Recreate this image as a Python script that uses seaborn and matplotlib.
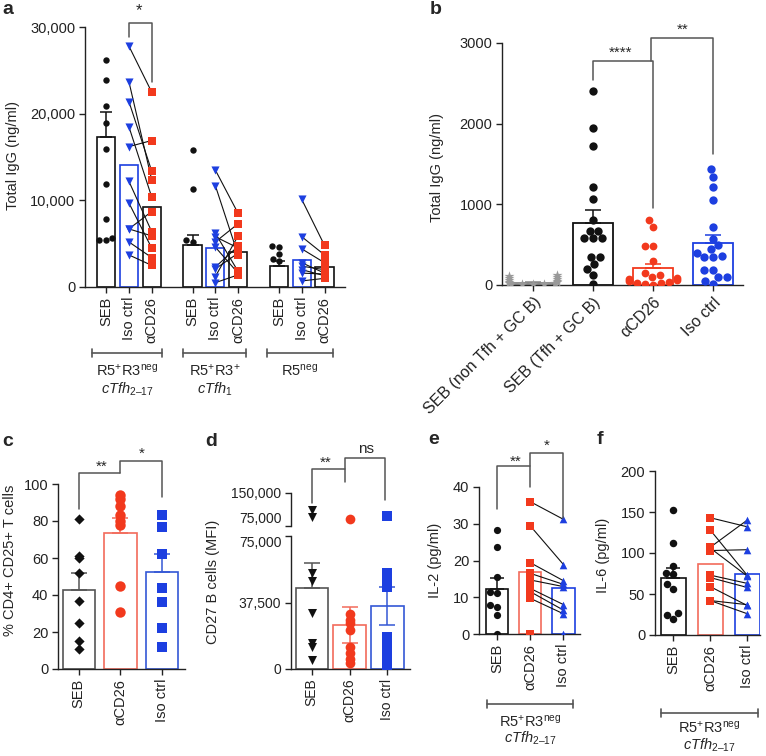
import numpy as np
import pandas as pd
import matplotlib
matplotlib.use("Agg")
import matplotlib.pyplot as plt
from matplotlib.lines import Line2D
import seaborn as sns

# ---------------- data ----------------
# panel a
a_pos = [0, 1, 2, 3.8, 4.8, 5.8, 7.6, 8.6, 9.6]
a_ticklabels = ["SEB", "Iso ctrl", "αCD26"] * 3
a_bar_mean = [17300, 14100, 9200, 4800, 4500, 4000, 2450, 3100, 2270]
a_bar_sem = [2900, 0, 0, 1250, 0, 0, 500, 0, 0]
a_seb_g1 = [26200, 23900, 20900, 18900, 15900, 11900, 7800, 5700, 5450, 5400]
a_seb_g2 = [15800, 11300, 5400, 5150]
a_seb_g3 = [4750, 4600, 3850, 3200, 2950]
a_iso_g1 = [27800, 23700, 21400, 18500, 16200, 12200, 9700, 6700, 6700, 5200, 3700]
a_cd26_g1 = [22500, 12400, 13400, 10400, 16900, 6400, 4500, 8700, 5900, 3400, 2500]
a_iso_g2 = [13500, 11700, 6200, 5800, 5200, 4600, 2300, 2100, 1200, 500]
a_cd26_g2 = [8500, 3700, 1800, 4500, 7300, 1600, 4700, 3900, 5900, 1400]
a_iso_g3 = [10100, 5800, 4400, 2800, 2400, 2000, 1600, 700]
a_cd26_g3 = [4800, 3700, 2800, 1600, 2000, 1300, 1500, 1000]

# panel b
b_cats = ["SEB (non Tfh + GC B)", "SEB (Tfh + GC B)", "αCD26", "Iso ctrl"]
b_bar_mean = [30, 765, 205, 520]
b_bar_sem = [10, 160, 55, 105]
b_nontfh = [120, 95, 70, 50, 35, 25, 15, 10, 10, 15, 25, 40, 60, 85, 110]
b_seb = [2410, 1950, 1720, 1210, 1060, 810, 675, 675, 580, 580, 580, 350, 350, 255, 195, 120, 12]
b_cd26 = [800, 720, 480, 480, 300, 150, 120, 100, 85, 70, 60, 50, 40, 30, 20, 12, 5]
b_iso = [1440, 1340, 1210, 1050, 725, 575, 495, 445, 395, 360, 345, 345, 180, 180, 100, 95, 55, 12]

# panel c
c_cats = ["SEB", "αCD26", "Iso ctrl"]
c_bar_mean = [42.5, 73.7, 52.4]
c_bar_sem = [9.2, 7.7, 10.0]
c_seb = [81, 61, 60, 52, 37, 25, 15, 11]
c_cd26 = [94, 92, 88, 83, 80, 78, 45, 31]
c_iso = [83, 77, 62, 44, 36, 22, 12]

# panel d
d_cats = ["SEB", "αCD26", "Iso ctrl"]
d_bar_mean = [45700, 24800, 35500]
d_sem_up = [14100, 10200, 10900]
d_sem_down = [0, 10200, 10900]
d_seb = [111000, 95000, 54000, 49600, 31600, 14700, 12400, 5000]
d_cd26 = [91000, 31000, 27600, 26000, 22000, 12400, 9000, 5600, 3500]
d_iso = [98000, 54000, 51000, 48000, 46000, 18000, 15000, 12000, 9000, 6000, 3000, 1000]

# panel e
e_cats = ["SEB", "αCD26", "Iso ctrl"]
e_bar_mean = [12.2, 16.8, 12.4]
e_bar_sem = [3.0, 0, 0]
e_seb = [28.3, 23.8, 15.5, 11.5, 11.2, 7.9, 7.3, 5.2, 0]
e_cd26 = [36, 29.4, 19.4, 16.5, 14.7, 12.4, 11.5, 9.7, 0]
e_iso = [31.2, 18.9, 14.5, 13.5, 12.9, 8.0, 6.5, 5.5, 0]

# panel f
f_cats = ["SEB", "αCD26", "Iso ctrl"]
f_bar_mean = [69, 87, 74]
f_bar_sem = [13, 0, 0]
f_seb = [153, 112, 84, 76, 74, 62, 56, 27, 25, 20]
f_cd26 = [143, 128, 107, 106, 103, 73, 70, 59, 42, 42]
f_iso = [132, 73, 140, 72, 104, 63, 58, 36, 37, 26]

# ---------------- style ----------------
sns.set_style("ticks")
plt.rcParams["font.family"] = ["Liberation Sans", "DejaVu Sans"]
plt.rcParams.update({
    "font.size": 10, "axes.linewidth": 1.0, "axes.edgecolor": "#222222",
    "xtick.major.size": 4, "ytick.major.size": 4,
    "xtick.major.width": 1, "ytick.major.width": 1,
    "xtick.color": "#222222", "ytick.color": "#222222",
    "mathtext.fontset": "custom", "mathtext.rm": "Liberation Sans",
    "mathtext.it": "Liberation Sans:italic", "mathtext.bf": "Liberation Sans:bold",
})

BLK = "#111111"
GRY = "#555555"
RED = "#f2391d"
BLU = "#1d3fe0"
RED_E = "#f26b5b"
BLU_E = "#3457d5"

W, H = 766, 756
fig = plt.figure(figsize=(W / 100, H / 100), dpi=100)


def ax_px(l, t, r, b):
    return fig.add_axes([l / W, 1 - b / H, (r - l) / W, (b - t) / H])


def ftext(x, y, s, **kw):
    fig.text(x / W, 1 - y / H, s, **kw)


def fline(xs, ys, color=GRY, lw=1.2):
    fig.add_artist(Line2D([x / W for x in xs], [1 - y / H for y in ys],
                          transform=fig.transFigure, color=color, lw=lw))


def color_bars(ax, edges, lw=1.2):
    for p, c in zip(ax.patches, edges):
        p.set_facecolor("white")
        p.set_edgecolor(c)
        p.set_linewidth(lw)
        p.set_zorder(1)


def errbars(ax, xs, means, up, down, colors, cap=4):
    for x, m, u, d, c in zip(xs, means, up, down, colors):
        if u == 0 and d == 0:
            continue
        ax.errorbar([x], [m], yerr=[[d], [u]], fmt="none", ecolor=c,
                    elinewidth=1.1, capsize=cap, capthick=1.1, zorder=2)


def bracket(ax, x1, y1, x2, y2, ytop, color=GRY):
    ax.plot([x1, x1, x2, x2], [y1, ytop, ytop, y2], color=color, lw=1.1,
            clip_on=False, zorder=5)


def paired(ax, x1, v1, x2, v2, m1, c1, m2, c2, s1, s2):
    for a, b in zip(v1, v2):
        ax.plot([x1, x2], [a, b], color=BLK, lw=0.8, zorder=3)
    sns.scatterplot(x=[x1] * len(v1), y=v1, marker=m1, color=c1, s=s1,
                    linewidth=0, ax=ax, zorder=4, legend=False)
    sns.scatterplot(x=[x2] * len(v2), y=v2, marker=m2, color=c2, s=s2,
                    linewidth=0, ax=ax, zorder=4, legend=False)


def finish(ax, xlim, ylim, ticks, labels, yticks, ylabels, rot=90, ls=10):
    sns.despine(ax=ax)
    ax.set_xlim(*xlim)
    ax.set_ylim(*ylim)
    ax.set_xticks(ticks)
    ax.set_xticklabels(labels, rotation=rot, ha="center", va="top")
    ax.set_yticks(yticks)
    ax.set_yticklabels(ylabels)
    ax.set_xlabel("")
    ax.set_ylabel("")
    ax.tick_params(labelsize=ls, pad=3)


# ---------------- panel a ----------------
ax = ax_px(85, 27, 345, 287)
sns.barplot(x=a_pos, y=a_bar_mean, native_scale=True, width=0.8, color="white",
            errorbar=None, ax=ax)
a_edges = [BLK, BLU, BLK] * 3
color_bars(ax, a_edges)
errbars(ax, a_pos, a_bar_mean, a_bar_sem, [0] * 9, a_edges, cap=4)
seb_x = [a_pos[0]] * len(a_seb_g1) + [a_pos[3]] * len(a_seb_g2) + [a_pos[6]] * len(a_seb_g3)
sns.swarmplot(x=seb_x, y=a_seb_g1 + a_seb_g2 + a_seb_g3, native_scale=True,
              color=BLK, size=4.6, ax=ax, zorder=4)
for i, (iso, cd) in enumerate([(a_iso_g1, a_cd26_g1), (a_iso_g2, a_cd26_g2), (a_iso_g3, a_cd26_g3)]):
    paired(ax, a_pos[3 * i + 1], iso, a_pos[3 * i + 2], cd, "v", BLU, "s", RED, 34, 34)
finish(ax, (-0.93, 10.5), (0, 30000), a_pos, a_ticklabels,
       [0, 10000, 20000, 30000], ["0", "10,000", "20,000", "30,000"], ls=10.5)
bracket(ax, 1, 28850, 2, 23650, 30450)
ax.text(1.45, 31000, "*", ha="center", va="bottom", fontsize=12)
ftext(13, 155, "Total IgG (ng/ml)", rotation=90, ha="center", va="center", fontsize=10.5)
ftext(2, 10, "a", fontsize=14, fontweight="bold", ha="left", va="center")
for (x1, x2, l1, l2) in [(92, 162, r"R5$^{+}$R3$^{\mathrm{neg}}$", r"$\mathit{cTfh}_{\mathrm{2–17}}$"),
                         (183, 246, r"R5$^{+}$R3$^{+}$", r"$\mathit{cTfh}_{\mathrm{1}}$"),
                         (267, 333, r"R5$^{\mathrm{neg}}$", None)]:
    fline([x1, x2], [353, 353])
    fline([x1, x1], [349, 357])
    fline([x2, x2], [349, 357])
    ftext((x1 + x2) / 2, 371, l1, ha="center", va="center", fontsize=10.5)
    if l2:
        ftext((x1 + x2) / 2, 389, l2, ha="center", va="center", fontsize=10.5)

# ---------------- panel b ----------------
ax = ax_px(502, 43, 743, 285)
sns.barplot(x=b_cats, y=b_bar_mean, order=b_cats, width=0.67, color="white",
            errorbar=None, ax=ax)
b_edges = ["#888888", BLK, RED, BLU]
color_bars(ax, b_edges, lw=1.3)
errbars(ax, range(4), b_bar_mean, b_bar_sem, [0] * 4, b_edges, cap=6)
for cat, vals, col, mk, sz in [(b_cats[0], b_nontfh, "#999999", "*", 7.5),
                               (b_cats[1], b_seb, BLK, "o", 6.0),
                               (b_cats[2], b_cd26, RED, "o", 5.6),
                               (b_cats[3], b_iso, BLU, "o", 6.0)]:
    sns.swarmplot(x=[cat] * len(vals), y=vals, order=b_cats, color=col,
                  marker=mk, size=sz, ax=ax, zorder=4, warn_thresh=1)
finish(ax, (-0.52, 3.5), (0, 3000), range(4), b_cats,
       [0, 1000, 2000, 3000], ["0", "1000", "2000", "3000"], rot=45, ls=10.5)
for t in ax.get_xticklabels():
    t.set_ha("right")
    t.set_va("top")
    t.set_rotation_mode("anchor")
    t.set_fontsize(11.5)
bracket(ax, 1, 2545, 2, 950, 2772)
bracket(ax, 1.97, 2772, 3, 1626, 3062)
ax.text(1.45, 2790, "****", ha="center", va="bottom", fontsize=11)
ax.text(2.5, 3080, "**", ha="center", va="bottom", fontsize=11)
ftext(437, 167, "Total IgG (ng/ml)", rotation=90, ha="center", va="center", fontsize=10.5)
ftext(430, 10, "b", fontsize=14, fontweight="bold", ha="left", va="center")

# ---------------- panel c ----------------
ax = ax_px(58, 484, 185, 669)
sns.barplot(x=c_cats, y=c_bar_mean, order=c_cats, width=0.78, color="white",
            errorbar=None, ax=ax)
c_edges = [GRY, RED_E, BLU_E]
color_bars(ax, c_edges)
errbars(ax, range(3), c_bar_mean, c_bar_sem, [0] * 3, c_edges, cap=6)
for cat, vals, col, mk, sz in [(c_cats[0], c_seb, BLK, "D", 5.2),
                               (c_cats[1], c_cd26, RED, "o", 7.5),
                               (c_cats[2], c_iso, BLU, "s", 6.5)]:
    sns.stripplot(x=[cat] * len(vals), y=vals, order=c_cats, color=col,
                  marker=mk, size=sz, jitter=False, linewidth=0, ax=ax, zorder=4)
finish(ax, (-0.5, 2.55), (0, 100), range(3), c_cats,
       [0, 20, 40, 60, 80, 100], ["0", "20", "40", "60", "80", "100"], ls=10.5)
bracket(ax, 0, 86.5, 1, 106.1, 106.1)
bracket(ax, 1, 106.1, 2, 93.2, 112.6)
ax.text(0.55, 105.5, "**", ha="center", va="bottom", fontsize=11)
ax.text(1.5, 112.5, "*", ha="center", va="bottom", fontsize=11)
ftext(10, 560, "% CD4+ CD25+ T cells", rotation=90, ha="center", va="center", fontsize=10.5)
ftext(2, 442, "c", fontsize=14, fontweight="bold", ha="left", va="center")

# ---------------- panel d ----------------
dl = ax_px(291, 536, 410, 669)
du = ax_px(291, 493, 410, 526)
sns.barplot(x=d_cats, y=d_bar_mean, order=d_cats, width=0.86, color="white",
            errorbar=None, ax=dl)
d_edges = [GRY, RED_E, BLU_E]
color_bars(dl, d_edges)
errbars(dl, range(3), d_bar_mean, d_sem_up, d_sem_down, d_edges, cap=6)
for axd in (dl, du):
    for cat, vals, col, mk, sz in [(d_cats[0], d_seb, BLK, "v", 6.5),
                                   (d_cats[1], d_cd26, RED, "o", 7.0),
                                   (d_cats[2], d_iso, BLU, "s", 7.5)]:
        sns.stripplot(x=[cat] * len(vals), y=vals, order=d_cats, color=col,
                      marker=mk, size=sz, jitter=False, linewidth=0, ax=axd, zorder=4)
finish(dl, (-0.55, 2.6), (0, 75000), range(3), d_cats,
       [0, 37500, 75000], ["0", "37,500", "75,000"], ls=10)
sns.despine(ax=du, bottom=True)
du.set_xlim(-0.55, 2.6)
du.set_ylim(75000, 150000)
du.set_xticks([])
du.set_yticks([75000, 150000])
du.set_yticklabels(["75,000", "150,000"])
du.set_xlabel("")
du.set_ylabel("")
du.tick_params(labelsize=10, pad=3)
du.get_yticklabels()[0].set_va("bottom")
dl.get_yticklabels()[-1].set_va("top")
bracket(du, 0, 127000, 0.89, 175000, 204500)
bracket(du, 0.89, 204500, 1.95, 134000, 229500)
ftext(326, 470, "**", ha="center", va="bottom", fontsize=11)
ftext(366, 456, "ns", ha="center", va="bottom", fontsize=11)
ftext(213, 582, "CD27 B cells (MFI)", rotation=90, ha="center", va="center", fontsize=10.5)
ftext(205, 442, "d", fontsize=14, fontweight="bold", ha="left", va="center")

# ---------------- panel e ----------------
ax = ax_px(479, 487, 580, 634)
sns.barplot(x=e_cats, y=e_bar_mean, order=e_cats, width=0.67, color="white",
            errorbar=None, ax=ax)
e_edges = [BLK, RED_E, BLU]
color_bars(ax, e_edges)
errbars(ax, range(3), e_bar_mean, e_bar_sem, [0] * 3, e_edges, cap=5)
sns.swarmplot(x=[e_cats[0]] * len(e_seb), y=e_seb, order=e_cats, color=BLK,
              size=5.2, ax=ax, zorder=4)
paired(ax, 1, e_cd26, 2, e_iso, "s", RED, "^", BLU, 30, 30)
finish(ax, (-0.55, 2.5), (0, 40), range(3), e_cats,
       [0, 10, 20, 30, 40], ["0", "10", "20", "30", "40"], ls=10.5)
bracket(ax, 0, 33.9, 1, 40, 45.6)
bracket(ax, 1, 45.6, 2, 31.7, 49.2)
ax.text(0.55, 45.0, "**", ha="center", va="bottom", fontsize=11)
ax.text(1.5, 49.3, "*", ha="center", va="bottom", fontsize=11)
ftext(435, 560, "IL-2 (pg/ml)", rotation=90, ha="center", va="center", fontsize=10.5)
ftext(428, 440, "e", fontsize=14, fontweight="bold", ha="left", va="center")
fline([487, 573], [704, 704])
fline([487, 487], [700, 708])
fline([573, 573], [700, 708])
ftext(530, 722, r"R5$^{+}$R3$^{\mathrm{neg}}$", ha="center", va="center", fontsize=10.5)
ftext(530, 738, r"$\mathit{cTfh}_{\mathrm{2–17}}$", ha="center", va="center", fontsize=10.5)

# ---------------- panel f ----------------
ax = ax_px(655, 471, 760, 635)
sns.barplot(x=f_cats, y=f_bar_mean, order=f_cats, width=0.68, color="white",
            errorbar=None, ax=ax)
f_edges = [BLK, RED_E, BLU]
color_bars(ax, f_edges)
errbars(ax, range(3), f_bar_mean, f_bar_sem, [0] * 3, f_edges, cap=5)
sns.swarmplot(x=[f_cats[0]] * len(f_seb), y=f_seb, order=f_cats, color=BLK,
              size=5.4, ax=ax, zorder=4)
paired(ax, 1, f_cd26, 2, f_iso, "s", RED, "^", BLU, 30, 30)
finish(ax, (-0.5, 2.35), (0, 200), range(3), f_cats,
       [0, 50, 100, 150, 200], ["0", "50", "100", "150", "200"], ls=10.5)
ftext(603, 555, "IL-6 (pg/ml)", rotation=90, ha="center", va="center", fontsize=10.5)
ftext(597, 440, "f", fontsize=14, fontweight="bold", ha="left", va="center")
fline([661, 758], [713, 713])
fline([661, 661], [709, 717])
fline([758, 758], [709, 717])
ftext(709, 728, r"R5$^{+}$R3$^{\mathrm{neg}}$", ha="center", va="center", fontsize=10.5)
ftext(709, 745, r"$\mathit{cTfh}_{\mathrm{2–17}}$", ha="center", va="center", fontsize=10.5)

fig.savefig("out.png", dpi=100)
